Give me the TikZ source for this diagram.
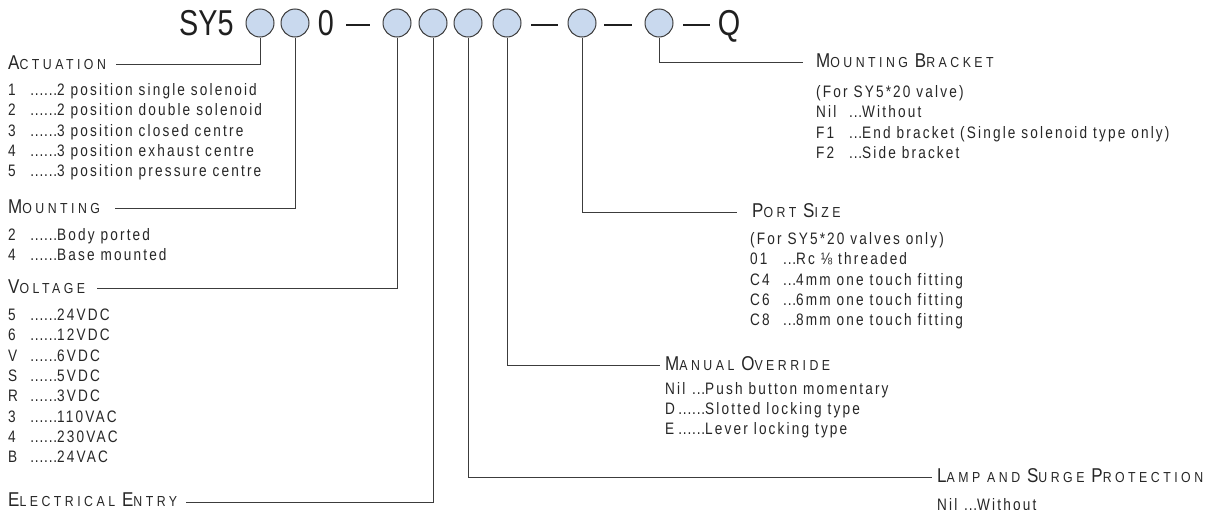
\documentclass[tikz,border=0pt]{standalone}
\usepackage{fontspec}
\setmainfont{Liberation Sans}
\newfontfamily\bodyf[FakeStretch=0.82,LetterSpace=13]{Liberation Sans}
\newfontfamily\dotf[FakeStretch=0.82,LetterSpace=5]{Liberation Sans}
\newfontfamily\headf[FakeStretch=0.85,LetterSpace=24]{Liberation Sans}
\newfontfamily\topf[FakeStretch=0.8]{Liberation Sans}
\definecolor{txt}{HTML}{262626}
\definecolor{ln}{HTML}{3C3C3C}
\definecolor{cfill}{HTML}{C9D9EE}
\newcommand\hd[2]{{\fontsize{20}{20}\selectfont #1}{\fontsize{14.5}{14.5}\selectfont #2}}
\newcommand\ent[4]{\rlap{#2}\hspace{#1pt}\llap{\dotf #3}#4}
\begin{document}
\begin{tikzpicture}[x=1pt,y=-1pt,
  sel/.style={circle,draw=ln,fill=cfill,line width=1pt,minimum size=28pt,inner sep=0pt},
  code/.style={inner sep=0pt,anchor=base,text=black!88,font=\topf\fontsize{36}{36}\selectfont},
  tdash/.style={line width=2.2pt,black!88},
  head/.style={inner sep=0pt,anchor=base west,text=txt,font=\headf\fontsize{14.5}{14.5}\selectfont},
  body/.style={inner sep=0pt,anchor=base west,text=txt,font=\bodyf\fontsize{16.6}{16.6}\selectfont},
  lead/.style={draw=ln,line width=1pt}]
\useasboundingbox (0,0) rectangle (1232,509);
% top code
\node[code,anchor=base west] (sy) at (179,35) {SY5};
\node[sel] (c1) at (260,23) {};
\node[sel] (c2) at (295,23) {};
\node[code] (zero) at (326,35) {0};
\node[sel] (c3) at (397,23) {};
\node[sel] (c4) at (433,23) {};
\node[sel] (c5) at (468,23) {};
\node[sel] (c6) at (507,23) {};
\node[sel] (c7) at (582,23) {};
\node[sel] (c8) at (659,23) {};
\node[code] (q) at (729,35) {Q};
\draw[tdash] (346,25) -- (370,25);
\draw[tdash] (531,25) -- (558,25);
\draw[tdash] (604,25) -- (632,25);
\draw[tdash] (683,25) -- (710,25);
% leader end points
\coordinate (eAct) at (116,64);
\coordinate (eMnt) at (115,208);
\coordinate (eVol) at (97,288);
\coordinate (eEle) at (186,502);
\coordinate (eLmp) at (932,477);
\coordinate (eMan) at (660,365);
\coordinate (ePrt) at (737,212);
\coordinate (eBrk) at (803,62);
\draw[lead] (c1.south) |- (eAct);
\draw[lead] (c2.south) |- (eMnt);
\draw[lead] (c3.south) |- (eVol);
\draw[lead] (c4.south) |- (eEle);
\draw[lead] (c5.south) |- (eLmp);
\draw[lead] (c6.south) |- (eMan);
\draw[lead] (c7.south) |- (ePrt);
\draw[lead] (c8.south) |- (eBrk);
% Actuation
\node[head] (hAct) at (8,69) {\hd{A}{CTUATION}};
\node[body] (a1) at (8,95) {\ent{49}{1}{......}{2 position single solenoid}};
\node[body] (a2) at (8,115) {\ent{49}{2}{......}{2 position double solenoid}};
\node[body] (a3) at (8,136) {\ent{49}{3}{......}{3 position closed centre}};
\node[body] (a4) at (8,156) {\ent{49}{4}{......}{3 position exhaust centre}};
\node[body] (a5) at (8,176) {\ent{49}{5}{......}{3 position pressure centre}};
% Mounting
\node[head] (hMnt) at (8,213) {\hd{M}{OUNTING}};
\node[body] (m1) at (8,240) {\ent{49}{2}{......}{Body ported}};
\node[body] (m2) at (8,260) {\ent{49}{4}{......}{Base mounted}};
% Voltage
\node[head] (hVol) at (8,293) {\hd{V}{OLTAGE}};
\node[body] (v1) at (8,320) {\ent{49}{5}{......}{24VDC}};
\node[body] (v2) at (8,340) {\ent{49}{6}{......}{12VDC}};
\node[body] (v3) at (8,361) {\ent{49}{V}{......}{6VDC}};
\node[body] (v4) at (8,381) {\ent{49}{S}{......}{5VDC}};
\node[body] (v5) at (8,401) {\ent{49}{R}{......}{3VDC}};
\node[body] (v6) at (8,422) {\ent{49}{3}{......}{110VAC}};
\node[body] (v7) at (8,442) {\ent{49}{4}{......}{230VAC}};
\node[body] (v8) at (8,462) {\ent{49}{B}{......}{24VAC}};
% Electrical entry
\node[head] (hEle) at (8,506.5) {\hd{E}{LECTRICAL} \hd{E}{NTRY}};
% Mounting bracket
\node[head] (hBrk) at (816,67) {\hd{M}{OUNTING} \hd{B}{RACKET}};
\node[body] (b0) at (816,97) {(For SY5*20 valve)};
\node[body] (b1) at (816,117) {\ent{46}{Nil}{...}{Without}};
\node[body] (b2) at (816,138) {\ent{46}{F1}{...}{End bracket (Single solenoid type only)}};
\node[body] (b3) at (816,158) {\ent{46}{F2}{...}{Side bracket}};
% Port size
\node[head] (hPrt) at (752,217) {\hd{P}{ORT} \hd{S}{IZE}};
\node[body] (p0) at (750,244) {(For SY5*20 valves only)};
\node[body] (p1) at (750,264) {\ent{46}{01}{...}{Rc ⅛ threaded}};
\node[body] (p2) at (750,285) {\ent{46}{C4}{...}{4mm one touch fitting}};
\node[body] (p3) at (750,305) {\ent{46}{C6}{...}{6mm one touch fitting}};
\node[body] (p4) at (750,325) {\ent{46}{C8}{...}{8mm one touch fitting}};
% Manual override
\node[head] (hMan) at (665,370) {\hd{M}{ANUAL} \hd{O}{VERRIDE}};
\node[body] (o1) at (665,394) {\ent{40}{Nil}{...}{Push button momentary}};
\node[body] (o2) at (665,414) {\ent{40}{D}{......}{Slotted locking type}};
\node[body] (o3) at (665,434) {\ent{40}{E}{......}{Lever locking type}};
% Lamp
\node[head] (hLmp) at (937,482) {\hd{L}{AMP AND} \hd{S}{URGE} \hd{P}{ROTECTION}};
\node[body] (l1) at (937,510) {\ent{40}{Nil}{...}{Without}};
\end{tikzpicture}
\end{document}
